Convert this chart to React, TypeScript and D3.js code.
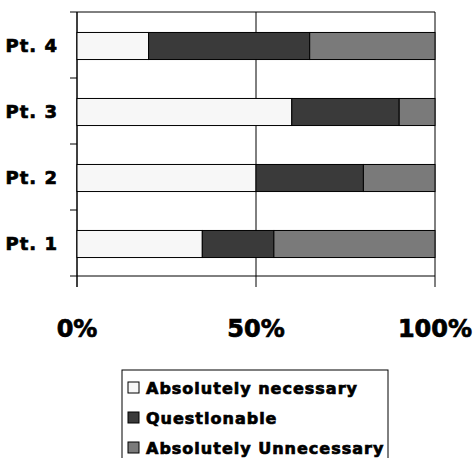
import React from "react";
import * as d3 from "d3";

// categories bottom -> top
const patients = ["Pt. 1", "Pt. 2", "Pt. 3", "Pt. 4"];
const seriesNames = ["Absolutely necessary", "Questionable", "Absolutely Unnecessary"];
const necessary = [35, 50, 60, 20];
const questionable = [20, 30, 30, 45];
const unnecessary = [45, 20, 10, 35];
const xTicks = [0, 50, 100];
const colors = ["#f7f7f7", "#3a3a3a", "#7a7a7a"];

const W = 474;
const H = 458;
const margin = { top: 12, left: 77, right: 39, bottom: 182 };
const font = "'DejaVu Sans', sans-serif";

// heavy text look (the original uses a black-weight face)
const heavy = { fontFamily: font, fontWeight: "bold" as const, stroke: "#000", strokeWidth: 0.7 };

const App = () => {
  const innerW = W - margin.left - margin.right;
  const innerH = H - margin.top - margin.bottom;

  const x = d3.scaleLinear().domain([0, 100]).range([0, innerW]);
  const y = d3
    .scaleBand()
    .domain([...patients].reverse())
    .range([0, innerH])
    .paddingInner(0.59)
    .paddingOuter(0.295);

  const rows = patients.map((p, i) => ({
    patient: p,
    necessary: necessary[i],
    questionable: questionable[i],
    unnecessary: unnecessary[i],
  }));
  const stack = d3.stack<any>().keys(["necessary", "questionable", "unnecessary"])(rows);

  const step = y.step();
  const boundaries = d3.range(patients.length + 1).map((i) => i * step);

  return (
    <svg
      width={W}
      height={H}
      style={{ position: "absolute", left: 0, top: 0, background: "#fff" }}
    >
      <g transform={`translate(${margin.left},${margin.top})`}>
        {/* plot frame */}
        <line x1={0} x2={innerW} y1={0} y2={0} stroke="#000" />
        <line x1={innerW} x2={innerW} y1={0} y2={innerH + 11} stroke="#000" />
        <line x1={0} x2={innerW} y1={innerH} y2={innerH} stroke="#000" />
        {/* 50% gridline */}
        <line x1={x(50)} x2={x(50)} y1={0} y2={innerH + 11} stroke="#000" />
        <line x1={0} x2={0} y1={0} y2={innerH + 11} stroke="#000" strokeWidth={1.5} />

        {/* bars */}
        {stack.map((s, si) =>
          s.map((d: any, i: number) => (
            <rect
              key={`${si}-${i}`}
              x={x(d[0])}
              y={(y(patients[i]) as number) + 1}
              width={x(d[1]) - x(d[0])}
              height={y.bandwidth()}
              fill={colors[si]}
              stroke="#000"
              strokeWidth={1}
            />
          ))
        )}

        {/* y ticks at band boundaries */}
        {boundaries.map((b, i) => (
          <line key={i} x1={-7} x2={0} y1={b} y2={b} stroke="#000" />
        ))}
        {patients.map((p) => (
          <text
            key={p}
            x={-19}
            y={(y(p) as number) + y.bandwidth() / 2 + 1}
            dy="0.36em"
            textAnchor="end"
            fontSize={18}
            letterSpacing={1}
            {...heavy}
          >
            {p}
          </text>
        ))}

        {/* x labels */}
        {xTicks.map((t) => (
          <text key={t} x={x(t)} y={325} textAnchor="middle" fontSize={24} {...heavy}>
            {t}%
          </text>
        ))}
      </g>

      {/* legend */}
      <g>
        <rect x={122} y={370} width={266} height={100} fill="#fff" stroke="#000" />
        {seriesNames.map((n, i) => (
          <g key={n} transform={`translate(128,${388 + i * 30})`}>
            <rect x={0} y={-6} width={11} height={11} fill={colors[i]} stroke="#000" />
            <text x={18} y={0} dy="0.36em" fontSize={16} letterSpacing={1} {...heavy}>
              {n}
            </text>
          </g>
        ))}
      </g>
    </svg>
  );
};

export default App;
